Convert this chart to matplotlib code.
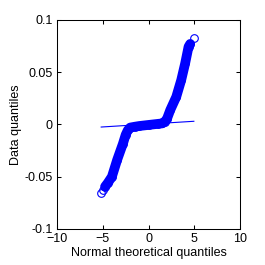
"""Normal QQ plot of a heavy-tailed sample."""
import numpy as np
import matplotlib
matplotlib.use('Agg')
from matplotlib import pyplot as plt

# sorted data quantiles (theoretical, data)
theo_q = [-5.17, -4.99, -4.75, -4.45, -4.0, -3.43, -2.8, -2.5, -2.26, -2.0,
          -1.5, -1.0, 0.0, 1.0, 1.5, 1.75, 2.0, 2.37, 3.03, 3.57, 4.0,
          4.37, 4.55, 4.92]
data_q = [-0.0655, -0.0625, -0.0595, -0.056, -0.050, -0.034, -0.0185,
          -0.010, -0.0055, -0.003, -0.0022, -0.0015, -0.0005, 0.0005,
          0.001, 0.0025, 0.005, 0.0137, 0.0264, 0.0424, 0.0584, 0.0743,
          0.077, 0.0823]

# reference line end points
ref_x = [-5.17, 4.95]
ref_y = [-0.0025, 0.003]

xticks = [-10, -5, 0, 5, 10]
yticks = [-0.1, -0.05, 0, 0.05, 0.1]
ytick_labels = ['-0.1', '-0.05', '0', '0.05', '0.1']

plt.rcParams['font.family'] = ['Liberation Sans', 'DejaVu Sans']
plt.rcParams['font.size'] = 9

fig = plt.figure(figsize=(2.65, 2.65), dpi=100)
ax = fig.add_axes([0.215, 0.136, 0.691, 0.789])

blue = '#0000ff'
# the dense body of overlapping markers, outermost points stay separate
ax.plot(theo_q[2:-1], data_q[2:-1], color=blue, linewidth=7,
        solid_capstyle='round', solid_joinstyle='round')
ax.plot(theo_q, data_q, 'o', color=blue, mfc='none', markersize=5.5,
        markeredgewidth=0.8)
ax.plot(ref_x, ref_y, color=blue, linewidth=0.8)

ax.set_xlim(-10, 10)
ax.set_ylim(-0.1, 0.1)
ax.set_xticks(xticks)
ax.set_yticks(yticks)
ax.set_yticklabels(ytick_labels)
ax.tick_params(direction='in', length=3, width=0.75, top=True, right=True,
               pad=3, labelsize=9)
for s in ax.spines.values():
    s.set_linewidth(0.75)

ax.set_xlabel('Normal theoretical quantiles', labelpad=1)
ax.set_ylabel('Data quantiles', labelpad=2)

fig.savefig('out.png', dpi=100)
